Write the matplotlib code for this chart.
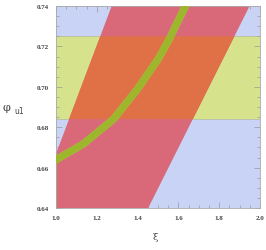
import numpy as np
import matplotlib
matplotlib.use("Agg")
import matplotlib.pyplot as plt
from matplotlib.patches import Polygon
from matplotlib.ticker import MultipleLocator

# horizontal band (yellow)
band_phi = [0.684, 0.725]

# red region: left and right edges as straight lines (phi -> tau)
edge_phi = [0.64, 0.74]
red_left_tau = [0.900, 1.273]
red_right_tau = [1.452, 1.949]

# green curve (centre line)
green_tau = [0.97, 1.0, 1.134, 1.283, 1.3995, 1.5015, 1.556, 1.579, 1.640, 1.66]
green_phi = [0.6625, 0.6639, 0.6717, 0.6841, 0.6989, 0.7138, 0.7237, 0.7286, 0.7410, 0.745]

blue = "#c9d3f6"
yellow = "#d6e38c"
red = "#d96879"
orange = "#e07146"
olive = "#9db62b"
lightgreen = "#a9d86a"

fig = plt.figure(figsize=(2.66, 2.51), dpi=100)
ax = fig.add_axes([0.2105, 0.1673, 0.7669, 0.8048])
ax.set_xlim(1.0, 2.0)
ax.set_ylim(0.64, 0.74)
ax.set_facecolor(blue)

ax.axhspan(band_phi[0], band_phi[1], color=yellow, lw=0, zorder=1)
ax.axhline(band_phi[0], color="#b8c0a0", lw=0.6, zorder=1.1)
ax.axhline(band_phi[1], color="#b8c0a0", lw=0.6, zorder=1.1)

ys = np.array(edge_phi)
red_pts = np.column_stack([np.concatenate([red_left_tau, red_right_tau[::-1]]),
                           np.concatenate([ys, ys[::-1]])])
ax.add_patch(Polygon(red_pts, closed=True, facecolor=red, edgecolor="none", zorder=2))

yb = np.array(band_phi)
or_left = np.interp(yb, edge_phi, red_left_tau)
or_right = np.interp(yb, edge_phi, red_right_tau)
or_pts = np.column_stack([np.concatenate([or_left, or_right[::-1]]),
                          np.concatenate([yb, yb[::-1]])])
ax.add_patch(Polygon(or_pts, closed=True, facecolor=orange, edgecolor="none", zorder=3))

ax.plot(green_tau, green_phi, color=lightgreen, lw=5.2, solid_joinstyle="round",
        solid_capstyle="butt", zorder=4)
g2, = ax.plot(green_tau, green_phi, color=olive, lw=5.2, solid_joinstyle="round",
              solid_capstyle="butt", zorder=5)
clip = Polygon(red_pts, closed=True, transform=ax.transData)
g2.set_clip_path(clip)

ax.xaxis.set_major_locator(MultipleLocator(0.2))
ax.xaxis.set_minor_locator(MultipleLocator(0.05))
ax.yaxis.set_major_locator(MultipleLocator(0.02))
ax.yaxis.set_minor_locator(MultipleLocator(0.005))
ax.set_xticklabels([f"{v:.1f}" for v in ax.get_xticks()])
ax.set_yticklabels([f"{v:.2f}" for v in ax.get_yticks()])
ax.tick_params(which="both", direction="in", top=True, right=True,
               color="#999999", width=0.5, labelsize=5, labelcolor="#444444",
               pad=5)
ax.tick_params(which="major", length=4)
ax.tick_params(which="minor", length=2)
for lab in ax.get_xticklabels() + ax.get_yticklabels():
    lab.set_family("Liberation Serif")
    lab.set_fontweight("bold")
for s in ax.spines.values():
    s.set_color("#aaaaaa")
    s.set_linewidth(0.6)

fig.text(155 / 266, 1 - 238 / 251, "ξ", family="DejaVu Serif", fontsize=7,
         color="#444444", ha="center", va="center")
fig.text(6 / 266, 1 - 108 / 251, "φ", family="DejaVu Serif", fontsize=8,
         color="#444444", ha="center", va="center")
fig.text(19 / 266, 1 - 111 / 251, "u1", family="DejaVu Sans", fontsize=5.5,
         color="#444444", ha="center", va="center")

fig.savefig("out.png", dpi=100)
